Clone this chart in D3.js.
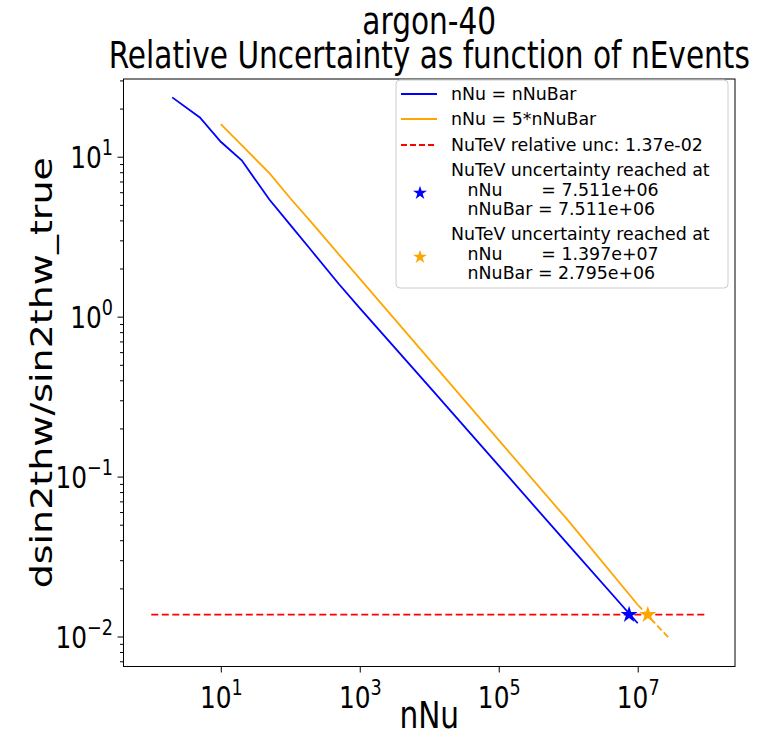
<!DOCTYPE html>
<html lang="en">
<head>
  <meta charset="UTF-8">
  <title>argon-40 relative uncertainty</title>
  <script src="https://d3js.org/d3.v7.min.js"></script>
  <style>
    body { margin: 0; background: white; }
    svg { width: 779px; height: 736px; display: block; }
    text { font-family: "DejaVu Sans", sans-serif; fill: black; }
    .legend text { white-space: pre; }
  </style>
</head>
<body>
  <svg></svg>

  <script>
    // values
    const blueX = [2, 5, 10, 20, 50, 100, 200, 500, 1e3, 1e4, 1e5, 1e6, 1e7];
    const blueY = [23.5, 17.6, 12.4, 9.5, 5.4, 3.75, 2.6, 1.6, 1.13, 0.365, 0.117, 0.0375, 0.0121];
    const orangeX = [10, 20, 50, 100, 200, 500, 1e3, 1e4, 1e5, 1e6, 1e7];
    const orangeY = [16.0, 11.8, 7.9, 5.5, 3.9, 2.45, 1.73, 0.54, 0.169, 0.053, 0.0158];
    const orangeExtX = [1e7, 2.8e7];
    const orangeExtY = [0.0158, 0.0098];
    const nutevX = [1, 1e8];
    const nutevUnc = 1.37e-2;
    const starX = [7.511e6, 1.397e7];
    const starColors = [`blue`, `orange`];
    const xTicks = [1e1, 1e3, 1e5, 1e7];
    const yTicks = [1e-2, 1e-1, 1e0, 1e1];

    const width = 779;
    const height = 736;
    const box = {left: 123.5, right: 735, top: 79, bottom: 666.5};
    const squeeze = 0.8; // text in the picture is horizontally narrow

    const xScale = d3.scaleLog()
      .domain([10 ** -0.4, 10 ** 8.4])
      .range([box.left, box.right]);

    const yScale = d3.scaleLog()
      .domain([10 ** -2.1875, 10 ** 1.486])
      .range([box.bottom, box.top]);

    const svg = d3.select(`svg`)
      .attr(`viewBox`, `0 0 ${width} ${height}`);

    const narrowText = (g, x, y, size, anchor, extra = ``) => g.append(`text`)
      .attr(`transform`, `translate(${x},${y}) scale(${squeeze},1)${extra}`)
      .attr(`text-anchor`, anchor)
      .attr(`font-size`, `${size}px`);

    const toPts = (xs, ys) => xs.map((x, i) => [x, ys[i]]);
    const line = d3.line()
      .x(d => xScale(d[0]))
      .y(d => yScale(d[1]));

    const plot = svg.append(`g`);

    plot.append(`path`)
      .attr(`d`, line(toPts(blueX, blueY)))
      .attr(`fill`, `none`)
      .attr(`stroke`, `blue`)
      .attr(`stroke-width`, 1.8);

    plot.append(`path`)
      .attr(`d`, line(toPts(orangeX, orangeY)))
      .attr(`fill`, `none`)
      .attr(`stroke`, `orange`)
      .attr(`stroke-width`, 1.8);

    plot.append(`path`)
      .attr(`d`, line(toPts(orangeExtX, orangeExtY)))
      .attr(`fill`, `none`)
      .attr(`stroke`, `orange`)
      .attr(`stroke-width`, 1.8)
      .attr(`stroke-dasharray`, `6.5,3`);

    plot.append(`path`)
      .attr(`d`, line(nutevX.map(x => [x, nutevUnc])))
      .attr(`fill`, `none`)
      .attr(`stroke`, `red`)
      .attr(`stroke-width`, 1.8)
      .attr(`stroke-dasharray`, `7,3.5`);

    const star = d3.symbol().type(d3.symbolStar).size(90);
    plot.selectAll(`.star`)
      .data(starX)
      .enter()
      .append(`path`)
      .attr(`d`, star)
      .attr(`transform`, d => `translate(${xScale(d)},${yScale(nutevUnc)})`)
      .attr(`fill`, (d, i) => starColors[i]);

    // axes, labels written as 10 with a raised exponent
    const powLabel = (t, d) => {
      const e = Math.round(Math.log10(d));
      t.append(`tspan`).text(`10`);
      t.append(`tspan`)
        .attr(`font-size`, `22px`)
        .attr(`dy`, `-13`)
        .text(e < 0 ? `\u2212${-e}` : `${e}`);
    };

    const gx = svg.append(`g`)
      .attr(`transform`, `translate(0, ${box.bottom})`)
      .call(d3.axisBottom(xScale).tickValues(xTicks).tickSize(6).tickFormat(``));
    gx.select(`.domain`).remove();
    gx.selectAll(`.tick text`).remove();
    gx.selectAll(`.tick`).each(function(d) {
      powLabel(narrowText(d3.select(this), 0, 41, 31, `middle`), d);
    });

    const yMinor = [];
    for (let k = -3; k <= 1; k++) {
      for (let m = 2; m <= 9; m++) {
        const v = m * 10 ** k;
        if (v > yScale.domain()[0] && v < yScale.domain()[1]) yMinor.push(v);
      }
    }

    const gyMinor = svg.append(`g`)
      .attr(`transform`, `translate(${box.left}, 0)`)
      .call(d3.axisLeft(yScale).tickValues(yMinor).tickSize(3.5).tickFormat(``));
    gyMinor.select(`.domain`).remove();

    const gy = svg.append(`g`)
      .attr(`transform`, `translate(${box.left}, 0)`)
      .call(d3.axisLeft(yScale).tickValues(yTicks).tickSize(6).tickFormat(``));
    gy.select(`.domain`).remove();
    gy.selectAll(`.tick text`).remove();
    gy.selectAll(`.tick`).each(function(d) {
      powLabel(narrowText(d3.select(this), -10.5, 11, 31, `end`), d);
    });

    svg.selectAll(`.tick line`).attr(`stroke`, `black`).attr(`stroke-width`, 1);

    svg.append(`rect`)
      .attr(`x`, box.left)
      .attr(`y`, box.top)
      .attr(`width`, box.right - box.left)
      .attr(`height`, box.bottom - box.top)
      .attr(`fill`, `none`)
      .attr(`stroke`, `black`)
      .attr(`stroke-width`, 1);

    // labels and title
    const midX = (box.left + box.right) / 2;
    narrowText(svg, midX, 728, 37, `middle`).text(`nNu`);
    narrowText(svg, 52, (box.top + box.bottom) / 2, 38, `middle`, ` rotate(-90)`)
      .text(`dsin2thw/sin2thw_true`);
    narrowText(svg, midX, 34, 37, `middle`).text(`argon-40`);
    narrowText(svg, midX, 68, 37, `middle`).text(`Relative Uncertainty as function of nEvents`);

    // legend
    const legend = svg.append(`g`).attr(`class`, `legend`);
    legend.append(`rect`)
      .attr(`x`, 396).attr(`y`, 80)
      .attr(`width`, 332).attr(`height`, 208)
      .attr(`rx`, 4)
      .attr(`fill`, `white`)
      .attr(`fill-opacity`, 0.8)
      .attr(`stroke`, `#cccccc`);

    const lineItems = [
      {label: `nNu = nNuBar`, color: `blue`, dash: null, y: 94},
      {label: `nNu = 5*nNuBar`, color: `orange`, dash: null, y: 119},
      {label: `NuTeV relative unc: ${nutevUnc.toExponential(2).replace(`e-`, `e-0`)}`, color: `red`, dash: `6,3`, y: 145},
    ];
    lineItems.forEach(it => {
      legend.append(`line`)
        .attr(`x1`, 401).attr(`x2`, 437)
        .attr(`y1`, it.y).attr(`y2`, it.y)
        .attr(`stroke`, it.color)
        .attr(`stroke-width`, 1.8)
        .attr(`stroke-dasharray`, it.dash);
      legend.append(`text`)
        .attr(`x`, 451).attr(`y`, it.y + 6.3)
        .attr(`font-size`, `17.4px`)
        .text(it.label);
    });

    const starItems = [
      {lines: [`NuTeV uncertainty reached at`, `   nNu       = 7.511e+06`, `   nNuBar = 7.511e+06`], y: 176},
      {lines: [`NuTeV uncertainty reached at`, `   nNu       = 1.397e+07`, `   nNuBar = 2.795e+06`], y: 240},
    ];
    starItems.forEach((it, i) => {
      legend.append(`path`)
        .attr(`d`, d3.symbol().type(d3.symbolStar).size(60))
        .attr(`transform`, `translate(420, ${it.y + 17})`)
        .attr(`fill`, starColors[i]);
      const t = legend.append(`text`)
        .attr(`x`, 451).attr(`y`, it.y)
        .attr(`font-size`, `17.4px`);
      it.lines.forEach((s, j) => {
        t.append(`tspan`)
          .attr(`x`, 451)
          .attr(`dy`, j === 0 ? 0 : 19.5)
          .text(s);
      });
    });
  </script>
</body>
</html>
